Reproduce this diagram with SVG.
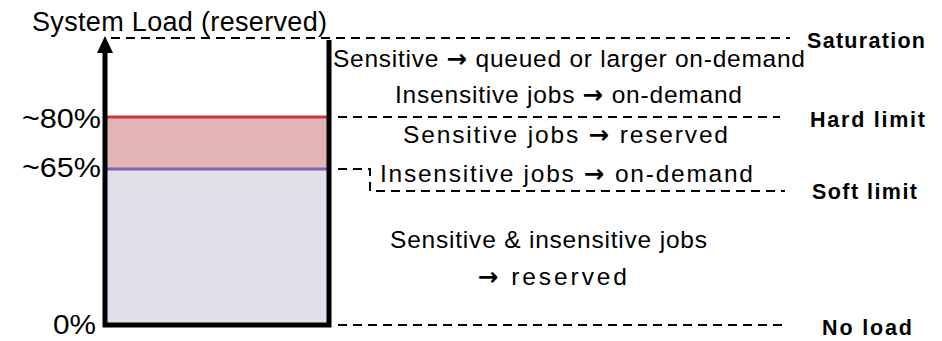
<svg xmlns="http://www.w3.org/2000/svg" width="942" height="341" viewBox="0 0 942 341">
  <defs>
    <style>
      .t { font-family: "Liberation Sans", Arial, sans-serif; fill: #000; }
      .lbl { font-size: 24.5px; }
      .axis { font-size: 27px; }
      .lvl { font-size: 21.5px; font-weight: bold; }
      .arr { font-family: "DejaVu Sans", sans-serif; font-weight: bold; }
      .dash { fill: none; stroke: #000; stroke-width: 2; stroke-dasharray: 9 6; }
      .frame { fill: none; stroke: #000; stroke-width: 5; }
    </style>
  </defs>
  <rect width="942" height="341" fill="#fff"/>

  <!-- load bands -->
  <g id="bands">
    <rect x="105" y="117" width="224" height="52" fill="#e2b4b6"/>
    <rect x="105" y="169" width="224" height="156" fill="#e3dfea"/>
    <line x1="105" y1="117" x2="329" y2="117" stroke="#c8393c" stroke-width="3"/>
    <line x1="105" y1="169" x2="329" y2="169" stroke="#7d66ad" stroke-width="3"/>
  </g>

  <!-- threshold lines -->
  <g id="connectors">
    <line class="dash" x1="111" y1="38" x2="790" y2="38"/>
    <line class="dash" x1="338" y1="117" x2="780" y2="117"/>
    <polyline class="dash" points="338,169 370,169 370,191 785,191"/>
    <line class="dash" x1="338" y1="325" x2="782" y2="325"/>
  </g>

  <!-- axis and frame -->
  <g id="frame">
    <polyline class="frame" points="105,52 105,325 329,325 329,40"/>
    <polygon points="105,36 97,53 113,53" fill="#000"/>
  </g>

  <g id="axis-labels">
    <text class="t axis" x="32" y="31" textLength="295" lengthAdjust="spacing">System Load (reserved)</text>
    <text class="t axis" x="22" y="128" textLength="79" lengthAdjust="spacingAndGlyphs">~80%</text>
    <text class="t axis" x="22" y="177" textLength="79" lengthAdjust="spacingAndGlyphs">~65%</text>
    <text class="t axis" x="53" y="334" textLength="43" lengthAdjust="spacingAndGlyphs">0%</text>
  </g>

  <g id="zone-saturation">
    <text class="t lbl" x="333" y="67" textLength="472" lengthAdjust="spacing">Sensitive <tspan class="arr">→</tspan> queued or larger on-demand</text>
    <text class="t lbl" x="395" y="103" textLength="347" lengthAdjust="spacing">Insensitive jobs <tspan class="arr">→</tspan> on-demand</text>
  </g>
  <g id="zone-hard">
    <text class="t lbl" x="403" y="143" textLength="325" lengthAdjust="spacing">Sensitive jobs <tspan class="arr">→</tspan> reserved</text>
    <text class="t lbl" x="380" y="182" textLength="373" lengthAdjust="spacing">Insensitive jobs <tspan class="arr">→</tspan> on-demand</text>
  </g>
  <g id="zone-soft">
    <text class="t lbl" x="390" y="248" textLength="317" lengthAdjust="spacing">Sensitive &amp; insensitive jobs</text>
    <text class="t lbl" x="478" y="285" textLength="149" lengthAdjust="spacing"><tspan class="arr">→</tspan> reserved</text>
  </g>

  <g id="levels">
    <text class="t lvl" x="807" y="48" textLength="118" lengthAdjust="spacing">Saturation</text>
    <text class="t lvl" x="810" y="127" textLength="115" lengthAdjust="spacing">Hard limit</text>
    <text class="t lvl" x="812" y="199" textLength="105" lengthAdjust="spacing">Soft limit</text>
    <text class="t lvl" x="822" y="335" textLength="90" lengthAdjust="spacing">No load</text>
  </g>
</svg>
